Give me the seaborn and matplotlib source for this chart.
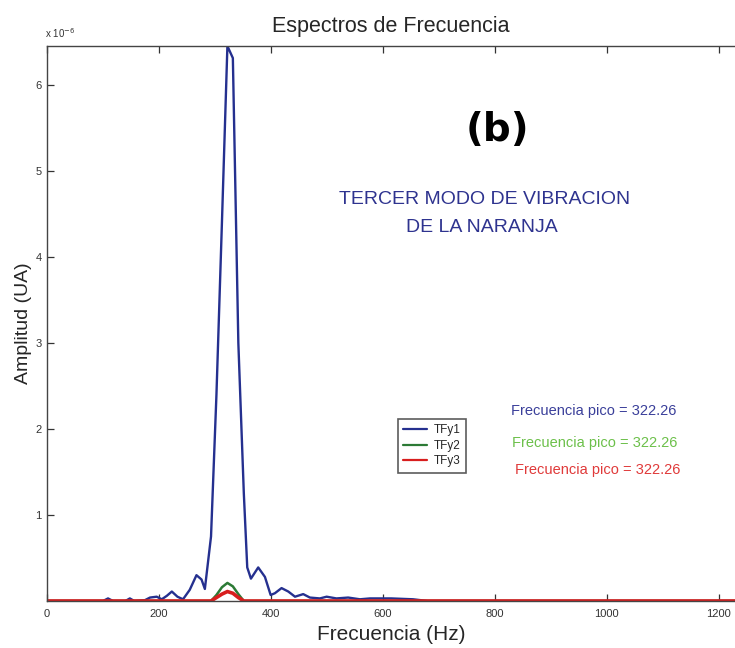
import matplotlib
matplotlib.use("Agg")
import matplotlib.pyplot as plt
import seaborn as sns
import pandas as pd

# ---- data (amplitude in units of 1e-6) ----
freq_tfy1 = [0, 100, 109, 118, 140, 148, 156, 175, 184, 196, 205, 214, 223, 233, 243,
             255, 267, 276, 282, 293, 302.7, 312.5, 322.26, 332.0, 341.8, 351.6, 357.7,
             364.3, 377.3, 389.3, 399.5, 407, 419, 431, 443, 457.7, 469.6, 487.5,
             499.5, 517, 538, 559, 577, 615, 654, 680, 1260]
amp_tfy1 = [0, 0, 0.03, 0, 0, 0.03, 0, 0.01, 0.04, 0.05, 0.02, 0.06, 0.11, 0.05, 0.02,
            0.13, 0.30, 0.25, 0.14, 0.75, 2.40, 4.40, 6.45, 6.31, 3.00, 1.25, 0.39,
            0.26, 0.39, 0.28, 0.07, 0.09, 0.15, 0.11, 0.05, 0.08, 0.04, 0.03,
            0.05, 0.03, 0.04, 0.02, 0.03, 0.03, 0.02, 0, 0]

freq_tfy2 = [0, 293, 302.7, 312.5, 322.26, 332.0, 341.8, 351.6, 1260]
amp_tfy2 = [0, 0, 0.07, 0.16, 0.21, 0.17, 0.08, 0, 0]

freq_tfy3 = [0, 293, 302.7, 312.5, 322.26, 332.0, 341.8, 351.6, 1260]
amp_tfy3 = [0, 0, 0.04, 0.08, 0.11, 0.09, 0.04, 0, 0]

series_names = ["TFy1", "TFy2", "TFy3"]
series_colors = ["#25308f", "#2c7a35", "#d81e1e"]
x_ticks = [0, 200, 400, 600, 800, 1000, 1200]
y_ticks = [1, 2, 3, 4, 5, 6]
peak_label = "Frecuencia pico = 322.26"

# ---- figure ----
sns.set_style("white")
plt.rcParams["font.family"] = ["Liberation Sans", "DejaVu Sans"]

fig = plt.figure(figsize=(7.35, 6.48), dpi=100)
ax = fig.add_axes([47 / 735, 1 - 601 / 648, (735 - 47) / 735, (601 - 46) / 648])

data = [(freq_tfy1, amp_tfy1), (freq_tfy2, amp_tfy2), (freq_tfy3, amp_tfy3)]
widths = [1.7, 1.8, 2.6]
for (fx, fy), name, col, lw in zip(data, series_names, series_colors, widths):
    df = pd.DataFrame({"Frecuencia": fx, "Amplitud": fy})
    sns.lineplot(data=df, x="Frecuencia", y="Amplitud", ax=ax, color=col,
                 linewidth=lw, label=name, estimator=None, sort=False)

ax.set_xlim(0, 1229)
ax.set_ylim(0, 6.45)
ax.set_xticks(x_ticks)
ax.set_xticklabels([str(t) for t in x_ticks])
ax.set_yticks(y_ticks)
ax.set_yticklabels([str(t) for t in y_ticks])
ax.tick_params(direction="in", length=5, width=0.9, colors="#333333",
               labelsize=8, labelcolor="#333333", top=True, bottom=True, left=True)
ax.tick_params(axis="x", pad=6)
ax.tick_params(axis="y", pad=4)
for side in ["left", "bottom", "top"]:
    ax.spines[side].set_color("#444444")
    ax.spines[side].set_linewidth(1.0)
ax.spines["right"].set_visible(False)

ax.set_xlabel("Frecuencia (Hz)", fontsize=15, labelpad=4)
ax.set_ylabel("Amplitud (UA)", fontsize=14, labelpad=2)
ax.set_title("Espectros de Frecuencia", fontsize=15.5, pad=10)

fig.text(45 / 735, 1 - 33 / 648, r"x 10$^{-6}$", fontsize=7, color="#333333",
         ha="left", va="center")

leg = ax.legend(loc="upper left", bbox_to_anchor=(392 / 735, 1 - 413 / 648),
                bbox_transform=fig.transFigure, fontsize=8.5, frameon=True,
                fancybox=False, edgecolor="#333333", handlelength=2.0,
                handletextpad=0.6, borderpad=0.45, labelspacing=0.3)
leg.get_frame().set_linewidth(1.2)
for h in leg.get_lines():
    h.set_linewidth(1.6)

fig.text(497 / 735, 1 - 130 / 648, "(b)", fontsize=28, fontweight="bold",
         family="DejaVu Sans", ha="center", va="center", color="black")
fig.text(485 / 735, 1 - 200 / 648, "TERCER MODO DE VIBRACION", fontsize=14,
         color="#2e338f", ha="center", va="center")
fig.text(482 / 735, 1 - 227 / 648, "DE LA NARANJA", fontsize=14,
         color="#2e338f", ha="center", va="center")

fig.text(511 / 735, 1 - 411 / 648, peak_label, fontsize=10.5, color="#3a3f9a",
         ha="left", va="center")
fig.text(512 / 735, 1 - 443 / 648, peak_label, fontsize=10.5, color="#6cc04a",
         ha="left", va="center")
fig.text(515 / 735, 1 - 470 / 648, peak_label, fontsize=10.5, color="#e03a3a",
         ha="left", va="center")

fig.savefig("out.png", dpi=100)
